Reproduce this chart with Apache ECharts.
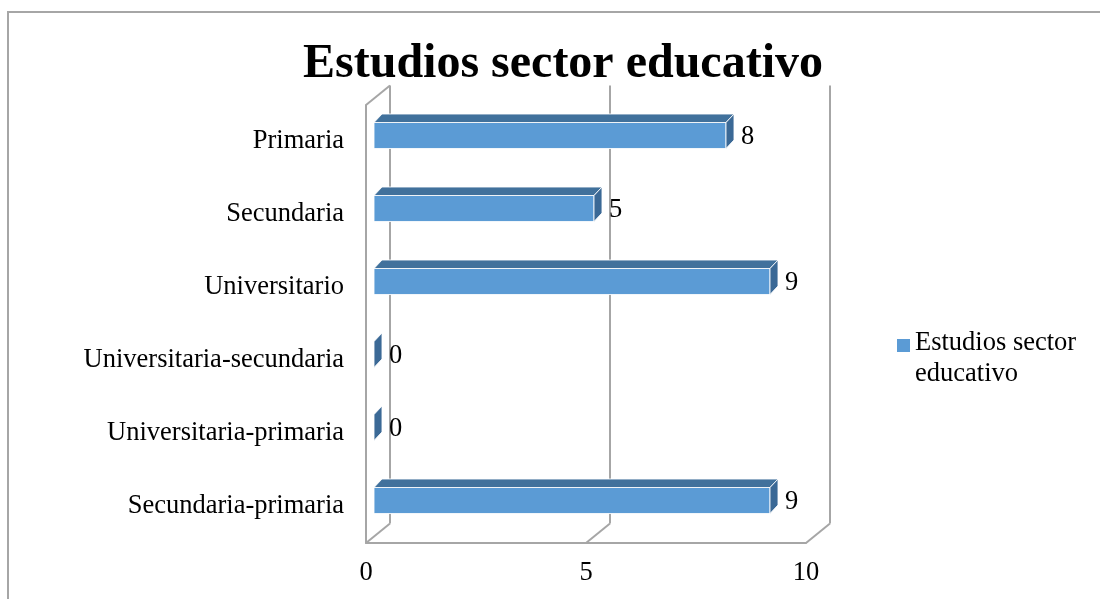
<!DOCTYPE html>
<html>
<head>
<meta charset="utf-8">
<title>Estudios sector educativo</title>
<script src="https://cdn.jsdelivr.net/npm/echarts@6/dist/echarts.min.js"></script>
<style>
  html, body { margin: 0; padding: 0; background: #fff; }
  #chart { width: 1100px; height: 599px; }
</style>
</head>
<body>
<div id="chart"></div>
<script>
// datos
var categories = ['Primaria', 'Secundaria', 'Universitario', 'Universitaria-secundaria', 'Universitaria-primaria', 'Secundaria-primaria'];
var values = [8, 5, 9, 0, 0, 9];
var xTicks = [0, 5, 10];
var seriesName = 'Estudios sector educativo';

var fontFam = "'Liberation Serif', 'Times New Roman', serif";
var fontSize = 26.5;
var frameColor = '#a6a6a6';
var wallDx = 24, wallDy = -19.5;   // profundidad de las paredes
var barFx = 8, barFy = -6;         // cara frontal de la barra
var barDx = 8, barDy = -8.5;       // profundidad de la barra

var chart = echarts.init(document.getElementById('chart'));

// paredes / suelo 3D
function renderFrame(params, api) {
  var cs = params.coordSys;
  var t = api.value(0);
  var px = api.coord([t, 0])[0];
  var top = cs.y, bottom = cs.y + cs.height;
  var lineStyle = { stroke: frameColor, lineWidth: 2 };
  var kids = [
    { type: 'line', shape: { x1: px, y1: bottom, x2: px + wallDx, y2: bottom + wallDy }, style: lineStyle },
    { type: 'line', shape: { x1: px + wallDx, y1: bottom + wallDy, x2: px + wallDx, y2: top + wallDy }, style: lineStyle }
  ];
  if (t === 0) {
    kids.push({ type: 'line', shape: { x1: px, y1: top, x2: px + wallDx, y2: top + wallDy }, style: lineStyle });
  }
  return { type: 'group', children: kids };
}

// barra 3D
function renderBar(params, api) {
  var v = api.value(0), i = api.value(1);
  var p0 = api.coord([0, i]);
  var p1 = api.coord([v, i]);
  var h = api.size([0, 1])[1] * 0.356;
  var x0 = p0[0] + barFx, x1 = p1[0] + barFx;
  var yc = p0[1] + barFy;
  var yt = yc - h / 2, yb = yc + h / 2;
  var edge = 'rgba(255,255,255,0.85)';
  var kids = [];
  if (x1 > x0) {
    kids.push({ type: 'rect', shape: { x: x0, y: yt, width: x1 - x0, height: h },
      style: { fill: '#5b9bd5', stroke: edge, lineWidth: 1 } });
    kids.push({ type: 'polygon', shape: { points: [[x0, yt], [x1, yt], [x1 + barDx, yt + barDy], [x0 + barDx, yt + barDy]] },
      style: { fill: '#41719c', stroke: edge, lineWidth: 1 } });
  }
  kids.push({ type: 'polygon', shape: { points: [[x1, yt], [x1 + barDx, yt + barDy], [x1 + barDx, yb + barDy], [x1, yb]] },
    style: { fill: '#3b6996', stroke: edge, lineWidth: 1 } });
  kids.push({ type: 'text', style: { x: x1 + barDx + 7, y: yc + 1.5, text: String(v),
    font: fontSize + 'px ' + fontFam, fill: '#000', verticalAlign: 'middle', align: 'left' } });
  return { type: 'group', children: kids };
}

chart.setOption({
  animation: false,
  title: {
    text: seriesName,
    left: 303,
    top: 41,
    padding: 0,
    textStyle: { fontFamily: fontFam, fontSize: 48, fontWeight: 'bold', color: '#000' }
  },
  legend: {
    data: [seriesName],
    left: 897,
    top: 314,
    padding: 0,
    itemWidth: 13,
    itemHeight: 13,
    icon: 'rect',
    // linea vacia arriba para bajar el texto respecto al cuadrado
    formatter: function () { return '{b| }\n{a|Estudios sector}\n{a|educativo}'; },
    textStyle: {
      fontFamily: fontFam, fontSize: fontSize, color: '#000',
      rich: {
        a: { fontFamily: fontFam, fontSize: fontSize, color: '#000', lineHeight: 31 },
        b: { fontSize: 1, lineHeight: 27 }
      }
    }
  },
  grid: {
    left: 366,
    top: 105,
    width: 440,
    height: 438,
    outerBoundsMode: 'none'
  },
  xAxis: {
    type: 'value',
    min: 0,
    max: 10,
    interval: 5,
    splitLine: { show: false },
    axisTick: { show: false },
    axisLine: { show: true, lineStyle: { color: frameColor, width: 2 } },
    axisLabel: { margin: 17, fontFamily: fontFam, fontSize: fontSize, color: '#000' }
  },
  yAxis: {
    type: 'category',
    inverse: true,
    data: categories,
    axisTick: { show: false },
    axisLine: { show: true, lineStyle: { color: frameColor, width: 2 } },
    axisLabel: { margin: 22, fontFamily: fontFam, fontSize: fontSize, color: '#000', padding: [3, 0, 0, 0] }
  },
  graphic: [{
    type: 'rect',
    shape: { x: 8, y: 12, width: 1300, height: 800 },
    style: { fill: 'none', stroke: frameColor, lineWidth: 2 },
    silent: true
  }],
  series: [
    {
      name: 'marco',
      type: 'custom',
      clip: false,
      z: 1,
      renderItem: renderFrame,
      data: xTicks.map(function (t) { return [t, 0]; })
    },
    {
      name: seriesName,
      type: 'custom',
      clip: false,
      z: 2,
      itemStyle: { color: '#5b9bd5' },
      renderItem: renderBar,
      encode: { x: 0, y: 1 },
      data: values.map(function (v, i) { return [v, i]; })
    }
  ]
});
</script>
</body>
</html>
